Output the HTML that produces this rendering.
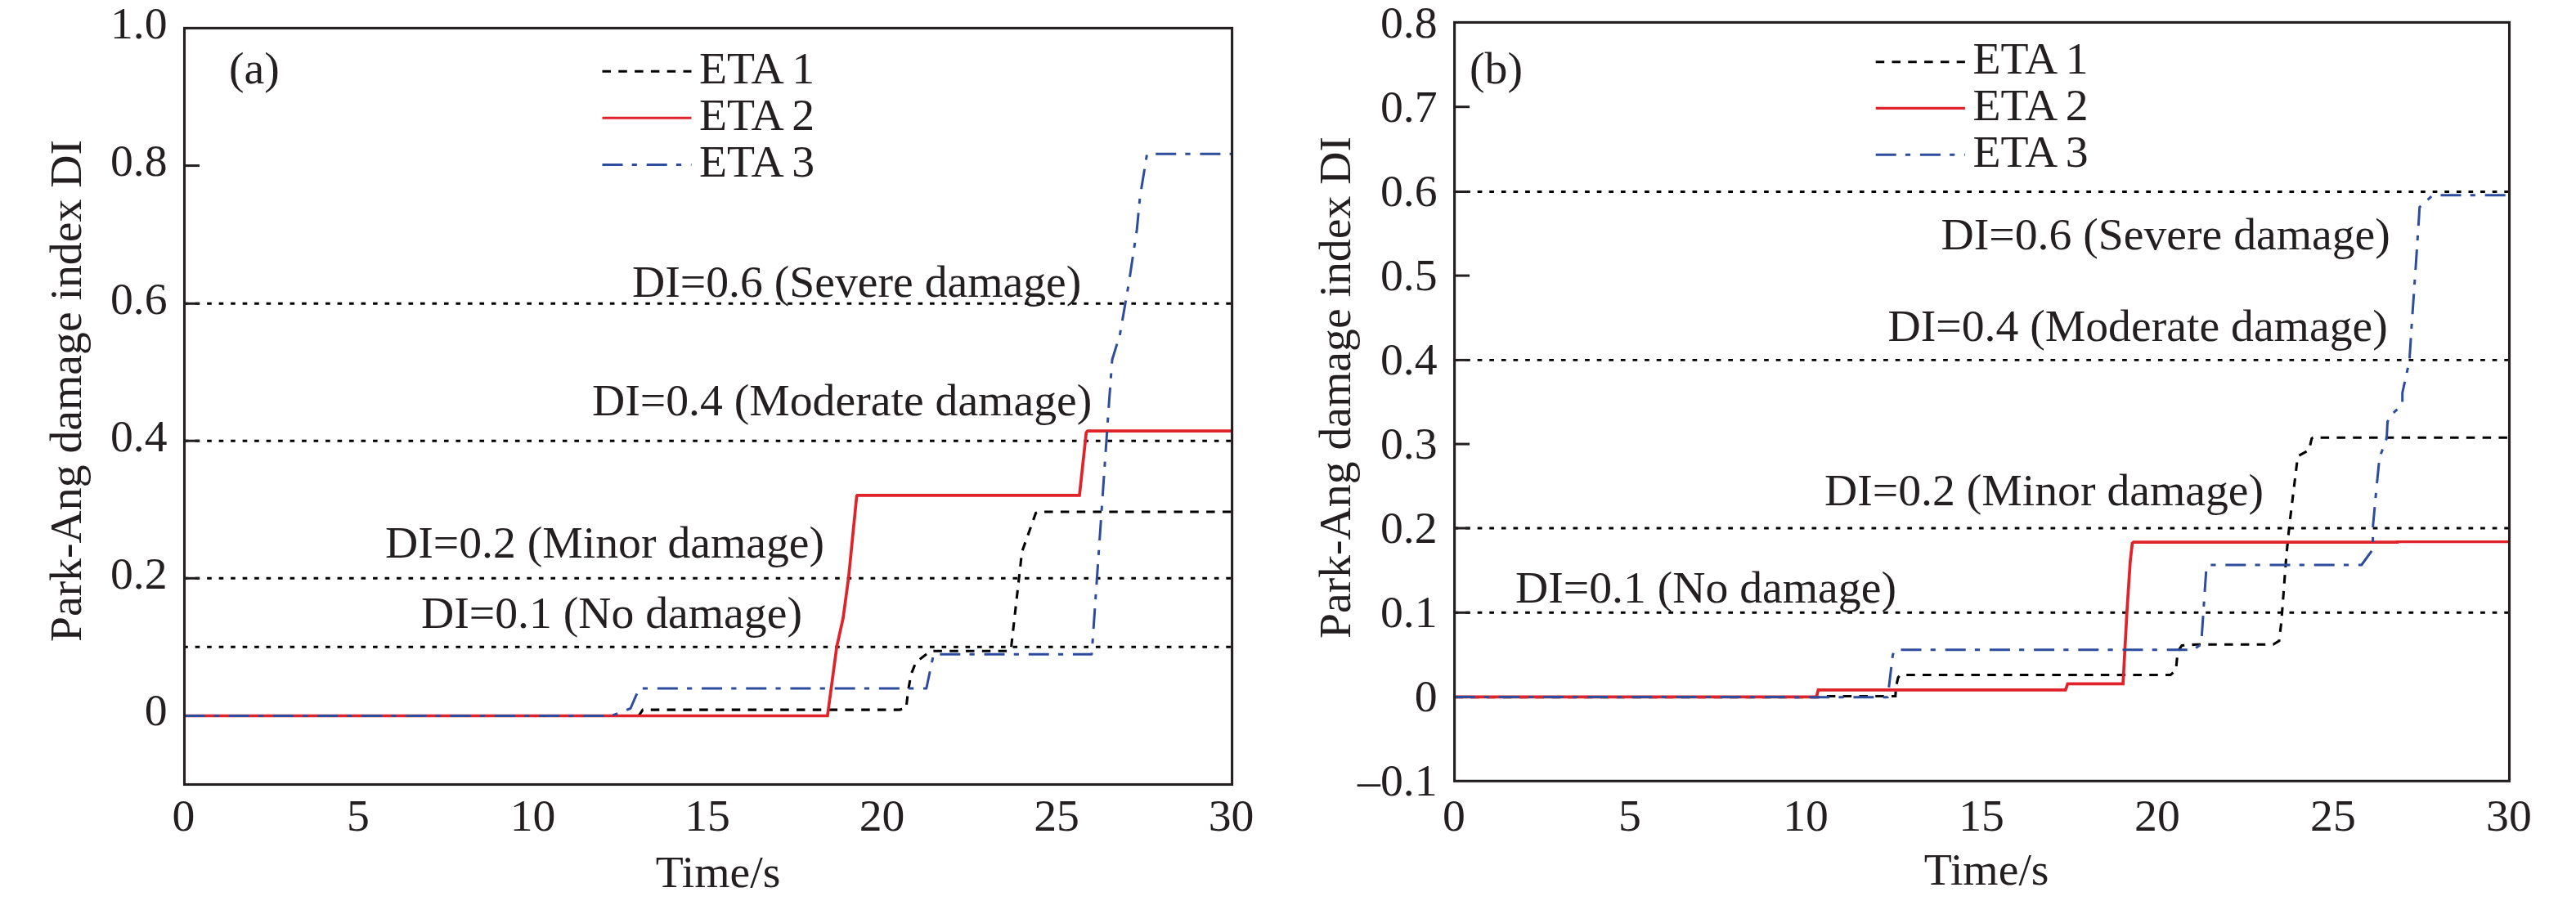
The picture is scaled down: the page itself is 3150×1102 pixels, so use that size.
<!DOCTYPE html>
<html><head><meta charset="utf-8"><title>Park-Ang damage index</title>
<style>html,body{margin:0;padding:0;background:#fff;}svg{display:block;}text{font-family:"Liberation Serif",serif;font-size:55.7px;fill:#231f20;}.fr{fill:none;stroke:#231f20;stroke-width:3.1;}.tk{stroke:#231f20;stroke-width:3;}.dot{fill:none;stroke:#000;stroke-width:2.9;}.e1{fill:none;stroke:#000;stroke-width:3.1;stroke-dasharray:10.5 9.3;stroke-linejoin:miter;}.e2{fill:none;stroke:#e0222a;stroke-width:3.7;stroke-linejoin:miter;}.lg{stroke-width:3.1;}.e3{fill:none;stroke:#2e4c9e;stroke-width:3;stroke-dasharray:25 11.2 6.2 11.8;stroke-linejoin:round;}</style></head><body>
<svg width="3150" height="1102" viewBox="0 0 3150 1102">
<rect x="0" y="0" width="3150" height="1102" fill="#fff"/>
<line class="dot" stroke-dasharray="5.6 8.89" x1="224.2" x2="1506.6" y1="371.3" y2="371.3"/>
<line class="dot" stroke-dasharray="5.6 8.89" x1="224.2" x2="1506.6" y1="539.2" y2="539.2"/>
<line class="dot" stroke-dasharray="5.6 8.89" x1="224.2" x2="1506.6" y1="707.3" y2="707.3"/>
<line class="dot" stroke-dasharray="5.6 8.89" x1="224.2" x2="1506.6" y1="791.3" y2="791.3"/>
<line class="tk" x1="225.5" x2="244.0" y1="202.6" y2="202.6"/>
<line class="tk" x1="225.5" x2="244.0" y1="371.3" y2="371.3"/>
<line class="tk" x1="225.5" x2="244.0" y1="539.2" y2="539.2"/>
<line class="tk" x1="225.5" x2="244.0" y1="707.3" y2="707.3"/>
<line class="tk" x1="225.5" x2="244.0" y1="875.5" y2="875.5"/>
<polyline class="e1" points="225.5,875.5 781.0,875.5 786.0,868.1 1100.0,868.1 1108.0,866.2 1110.5,845.0 1114.0,825.0 1120.0,810.0 1135.0,798.5 1141.0,796.2 1235.3,796.2 1236.7,790.0 1249.7,674.9 1266.6,627.5 1270.0,626.0 1506.6,626.0"/>
<polyline class="e2" points="225.5,875.5 1011.9,875.5 1023.2,791.0 1031.0,756.0 1037.7,706.4 1047.6,606.6 1048.4,605.8 1320.0,605.8 1328.3,529.0 1330.0,527.2 1506.6,527.2"/>
<polyline class="e3" points="225.5,875.5 748.0,875.5 771.0,866.5 781.5,842.0 1132.8,842.0 1141.6,800.2 1335.0,800.2 1356.2,492.0 1360.0,440.0 1369.5,409.0 1380.6,345.0 1390.2,281.0 1394.0,241.0 1402.6,188.3 1506.6,188.3"/>
<rect class="fr" x="225.5" y="34.4" width="1281.1" height="925.1"/>
<text x="204.5" y="46.8" text-anchor="end">1.0</text>
<text x="204.5" y="215.0" text-anchor="end">0.8</text>
<text x="204.5" y="383.7" text-anchor="end">0.6</text>
<text x="204.5" y="551.6" text-anchor="end">0.4</text>
<text x="204.5" y="719.7" text-anchor="end">0.2</text>
<text x="204.5" y="886.8" text-anchor="end">0</text>
<text x="224.5" y="1016.3" text-anchor="middle">0</text>
<text x="438.0" y="1016.3" text-anchor="middle">5</text>
<text x="651.5" y="1016.3" text-anchor="middle">10</text>
<text x="865.0" y="1016.3" text-anchor="middle">15</text>
<text x="1078.6" y="1016.3" text-anchor="middle">20</text>
<text x="1292.1" y="1016.3" text-anchor="middle">25</text>
<text x="1505.6" y="1016.3" text-anchor="middle">30</text>
<text x="878" y="1085" text-anchor="middle">Time/s</text>
<text transform="translate(99.2,785) rotate(-90)" x="0" y="0">Park-Ang damage index DI</text>
<text x="280" y="102">(a)</text>
<line class="e1" x1="736.5" x2="845.5" y1="87.3" y2="87.3"/>
<line class="e2 lg" x1="736.5" x2="845.5" y1="144.3" y2="144.3"/>
<line class="e3" x1="736.5" x2="845.5" y1="201.4" y2="201.4"/>
<text x="855" y="101.7" style="word-spacing:-1.5px">ETA 1</text>
<text x="855" y="158.8" style="word-spacing:-1.5px">ETA 2</text>
<text x="855" y="215.6" style="word-spacing:-1.5px">ETA 3</text>
<text x="773" y="363">DI=0.6 (Severe damage)</text>
<text x="724" y="508.3">DI=0.4 (Moderate damage)</text>
<text x="471" y="682.2">DI=0.2 (Minor damage)</text>
<text x="515" y="767.7">DI=0.1 (No damage)</text>
<line class="dot" stroke-dasharray="5.7 8.9" x1="1777.5" x2="3068.5" y1="234.5" y2="234.5"/>
<line class="dot" stroke-dasharray="5.7 8.9" x1="1777.5" x2="3068.5" y1="440.4" y2="440.4"/>
<line class="dot" stroke-dasharray="5.7 8.9" x1="1777.5" x2="3068.5" y1="646.0" y2="646.0"/>
<line class="dot" stroke-dasharray="5.7 8.9" x1="1777.5" x2="3068.5" y1="749.3" y2="749.3"/>
<line class="tk" x1="1778.6" x2="1797.1" y1="130.7" y2="130.7"/>
<line class="tk" x1="1778.6" x2="1797.1" y1="234.5" y2="234.5"/>
<line class="tk" x1="1778.6" x2="1797.1" y1="337.1" y2="337.1"/>
<line class="tk" x1="1778.6" x2="1797.1" y1="440.4" y2="440.4"/>
<line class="tk" x1="1778.6" x2="1797.1" y1="543.1" y2="543.1"/>
<line class="tk" x1="1778.6" x2="1797.1" y1="646.0" y2="646.0"/>
<line class="tk" x1="1778.6" x2="1797.1" y1="749.3" y2="749.3"/>
<line class="tk" x1="1778.6" x2="1797.1" y1="852.4" y2="852.4"/>
<polyline class="e1" points="1778.6,852.6 2226.0,852.6 2230.0,851.5 2317.8,851.5 2318.4,840.4 2321.0,829.0 2323.5,825.5 2654.2,825.5 2660.8,819.9 2662.9,797.0 2668.0,789.5 2686.0,788.3 2779.8,788.3 2787.0,783.8 2789.8,759.8 2795.8,679.8 2799.8,639.9 2809.8,558.0 2823.5,550.5 2826.8,536.4 2828.2,535.2 3068.5,535.2"/>
<polyline class="e2" points="1778.6,852.4 2221.2,852.4 2223.4,843.8 2525.8,843.8 2528.4,836.4 2596.1,836.4 2600.9,747.9 2604.9,686.6 2607.4,664.5 2609.0,663.1 2933.0,663.1"/>
<line class="e2 lg" stroke-width="3" x1="2930" x2="3070.0" y1="662.6" y2="662.6"/>
<polyline class="e3" points="1778.6,852.4 2180.0,852.4 2190.0,852.7 2308.6,852.7 2309.4,843.8 2314.5,801.2 2317.0,794.8 2682.0,794.8 2691.7,788.0 2697.9,695.8 2701.0,691.0 2887.7,691.0 2901.5,672.0 2901.7,643.9 2905.7,600.0 2909.7,560.0 2918.5,536.0 2919.5,516.0 2923.0,508.5 2937.7,494.7 2937.7,480.5 2946.3,441.4 2949.0,398.8 2954.4,320.7 2958.0,265.7 2958.7,253.3 2974.7,238.8 3068.5,238.8"/>
<rect class="fr" x="1778.6" y="27.4" width="1289.9" height="927.9"/>
<text x="1757.5" y="45.8" text-anchor="end">0.8</text>
<text x="1757.5" y="148.5" text-anchor="end">0.7</text>
<text x="1757.5" y="252.3" text-anchor="end">0.6</text>
<text x="1757.5" y="354.9" text-anchor="end">0.5</text>
<text x="1757.5" y="458.2" text-anchor="end">0.4</text>
<text x="1757.5" y="560.9" text-anchor="end">0.3</text>
<text x="1757.5" y="663.8" text-anchor="end">0.2</text>
<text x="1757.5" y="767.1" text-anchor="end">0.1</text>
<text x="1757.5" y="870.2" text-anchor="end">0</text>
<text x="1757.5" y="973.0" text-anchor="end">–0.1</text>
<text x="1778.0" y="1016.3" text-anchor="middle">0</text>
<text x="1993.0" y="1016.3" text-anchor="middle">5</text>
<text x="2208.0" y="1016.3" text-anchor="middle">10</text>
<text x="2423.0" y="1016.3" text-anchor="middle">15</text>
<text x="2637.9" y="1016.3" text-anchor="middle">20</text>
<text x="2852.9" y="1016.3" text-anchor="middle">25</text>
<text x="3067.9" y="1016.3" text-anchor="middle">30</text>
<text x="2429.2" y="1082.2" text-anchor="middle">Time/s</text>
<text transform="translate(1651,781) rotate(-90)" x="0" y="0">Park-Ang damage index DI</text>
<text x="1797" y="102">(b)</text>
<line class="e1" x1="2293.7" x2="2402.9" y1="75.7" y2="75.7"/>
<line class="e2 lg" x1="2293.7" x2="2402.9" y1="132.4" y2="132.4"/>
<line class="e3" x1="2293.7" x2="2402.9" y1="189.2" y2="189.2"/>
<text x="2412.5" y="90.1" style="word-spacing:-1.5px">ETA 1</text>
<text x="2412.5" y="147" style="word-spacing:-1.5px">ETA 2</text>
<text x="2412.5" y="203.6" style="word-spacing:-1.5px">ETA 3</text>
<text x="2373.5" y="304.6">DI=0.6 (Severe damage)</text>
<text x="2308.5" y="416.7">DI=0.4 (Moderate damage)</text>
<text x="2231" y="617.8">DI=0.2 (Minor damage)</text>
<text x="1853" y="736.9">DI=0.1 (No damage)</text>
</svg></body></html>
